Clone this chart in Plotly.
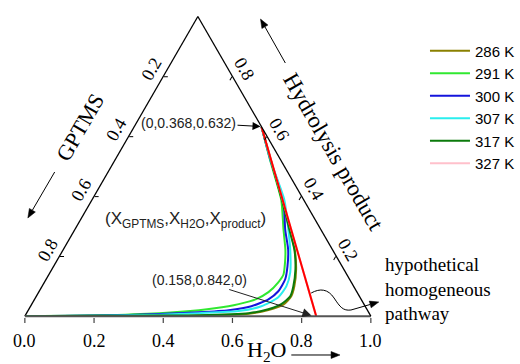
import math
import plotly.graph_objects as go

W, H = 520, 364
S3 = math.sqrt(3) / 2

# ---------------- data (X_H2O and X_product; X_GPTMS = 1 - both) ----------------
temps = ["286 K", "291 K", "300 K", "307 K", "317 K", "327 K"]
colors = ["#8a8000", "#30e830", "#1414dc", "#2aeeee", "#0b7a0b", "#ffc0cb"]

h2o_286 = [0, 0.216, 0.388, 0.503, 0.643, 0.694, 0.728, 0.737, 0.729, 0.706, 0.669, 0.621, 0.550, 0.451, 0.368]
prod_286 = [0, 0.000, 0.001, 0.002, 0.008, 0.020, 0.038, 0.066, 0.100, 0.156, 0.222, 0.289, 0.388, 0.520, 0.632]

h2o_291 = [0, 0.214, 0.383, 0.493, 0.572, 0.598, 0.639, 0.664, 0.676, 0.678, 0.662, 0.642, 0.603, 0.547, 0.449, 0.368]
prod_291 = [0, 0.003, 0.010, 0.020, 0.033, 0.040, 0.056, 0.080, 0.113, 0.139, 0.180, 0.222, 0.289, 0.388, 0.520, 0.632]

h2o_300 = [0, 0.214, 0.385, 0.496, 0.579, 0.638, 0.676, 0.691, 0.691, 0.676, 0.650, 0.608, 0.553, 0.450, 0.368]
prod_300 = [0, 0.002, 0.007, 0.013, 0.020, 0.033, 0.056, 0.083, 0.123, 0.166, 0.222, 0.289, 0.388, 0.520, 0.632]

h2o_307 = [0, 0.215, 0.386, 0.498, 0.609, 0.667, 0.701, 0.706, 0.694, 0.656, 0.617, 0.556, 0.450, 0.368]
prod_307 = [0, 0.001, 0.005, 0.010, 0.017, 0.033, 0.063, 0.100, 0.146, 0.222, 0.289, 0.388, 0.520, 0.632]

h2o_317 = [0, 0.216, 0.387, 0.502, 0.642, 0.692, 0.721, 0.734, 0.726, 0.704, 0.668, 0.620, 0.549, 0.451, 0.368]
prod_317 = [0, 0.001, 0.002, 0.003, 0.010, 0.023, 0.040, 0.066, 0.100, 0.156, 0.222, 0.289, 0.388, 0.520, 0.632]

h2o_327 = [0.842, 0.368]
prod_327 = [0.000, 0.632]

# hypothetical homogeneous pathway
path_h2o = [0.842, 0.368]
path_prod = [0.000, 0.632]

bottom_ticks = [0.0, 0.2, 0.4, 0.6, 0.8, 1.0]   # X_H2O along the base
side_ticks = [0.2, 0.4, 0.6, 0.8]

series_h2o = [h2o_286, h2o_291, h2o_300, h2o_307, h2o_317, h2o_327]
series_prod = [prod_286, prod_291, prod_300, prod_307, prod_317, prod_327]

# ---------------- layout geometry ----------------
X0, X1, YB = 25, 373, 317          # triangle base in pixels
TW = X1 - X0
TH = TW * S3
dom_x = [X0 / W, X1 / W]
dom_y = [(H - YB) / H, (H - YB + TH) / H]


def tern_px(prod, h2o):
    return X0 + TW * (h2o + prod / 2), YB - TH * prod


def tern_paper(prod, h2o):
    px, py = tern_px(prod, h2o)
    return px / W, 1 - py / H


def pp(px, py):
    return px / W, 1 - py / H


def ptxt(px, py):
    x, y = pp(px, py)
    return f"{x:.5f},{y:.5f}"


fig = go.Figure()
for name, col, hv, pv in zip(temps, colors, series_h2o, series_prod):
    fig.add_trace(go.Scatterternary(
        a=pv, c=hv, b=[1 - x - y for x, y in zip(hv, pv)],
        mode="lines", name=name,
        line=dict(color=col, width=2, shape="spline", smoothing=0.6),
        hoverinfo="skip"))

fig.add_trace(go.Scatterternary(
    a=path_prod, c=path_h2o, b=[1 - x - y for x, y in zip(path_h2o, path_prod)],
    mode="lines", showlegend=False, line=dict(color="#ff0000", width=2), hoverinfo="skip"))

serif = "Liberation Serif, Times New Roman, serif"
sans = "Liberation Sans, Arial, sans-serif"

axis_common = dict(showgrid=False, linecolor="black", linewidth=1.3, tickcolor="black",
                   ticklen=4, tickwidth=1, title=dict(text=""), showticklabels=False,
                   tickmode="array")

fig.update_layout(
    width=W, height=H, margin=dict(l=0, r=0, t=0, b=0),
    paper_bgcolor="white",
    ternary=dict(
        sum=1, bgcolor="white",
        domain=dict(x=dom_x, y=dom_y),
        aaxis=dict(axis_common, tickvals=side_ticks, ticks="inside"),
        baxis=dict(axis_common, tickvals=[1 - v for v in bottom_ticks], ticks="",
                   linecolor="#555555", linewidth=2),
        caxis=dict(axis_common, tickvals=side_ticks, ticks="inside"),
    ),
    legend=dict(x=0.822, y=0.905, xanchor="left", yanchor="top",
                font=dict(family=sans, size=15, color="black"),
                bgcolor="rgba(0,0,0,0)", tracegroupgap=0, itemwidth=40),
    showlegend=True,
)

ann = []
# side tick labels (GPTMS on the left edge, hydrolysis product on the right edge)
for v in side_ticks:
    px, py = tern_px(v, 0.0)            # left edge, product = v -> GPTMS = 1 - v
    x, y = pp(px - 14 * S3, py - 7)
    ann.append(dict(x=x, y=y, xref="paper", yref="paper", showarrow=False,
                    text=f"{1 - v:.1f}", textangle=-60, xanchor="center", yanchor="middle",
                    font=dict(family=serif, size=18, color="black")))
    px, py = tern_px(1 - v, v)          # right edge, H2O = v -> product = 1 - v
    x, y = pp(px + 14 * S3, py - 7)
    ann.append(dict(x=x, y=y, xref="paper", yref="paper", showarrow=False,
                    text=f"{1 - v:.1f}", textangle=60, xanchor="center", yanchor="middle",
                    font=dict(family=serif, size=18, color="black")))

# base tick labels (H2O)
for v in bottom_ticks:
    px, py = tern_px(0.0, v)
    x, y = pp(px, py + 24)
    ann.append(dict(x=x, y=y, xref="paper", yref="paper", showarrow=False,
                    text=f"{v:.1f}", xanchor="center", yanchor="middle",
                    font=dict(family=serif, size=18, color="black")))

# point labels with arrows
tx, ty = tern_paper(path_prod[1], path_h2o[1])
ann.append(dict(x=tx, y=ty, xref="paper", yref="paper", text="(0,0.368,0.632)",
                showarrow=True, ax=-73, ay=-4, arrowhead=2, arrowsize=1.6, arrowwidth=1,
                arrowcolor="black", standoff=1, font=dict(family=sans, size=14, color="#222")))
tx, ty = tern_paper(path_prod[0], path_h2o[0])
ann.append(dict(x=tx, y=ty, xref="paper", yref="paper", text="(0.158,0.842,0)",
                showarrow=True, ax=-117, ay=-37, arrowhead=2, arrowsize=1.8, arrowwidth=1,
                arrowcolor="#222", standoff=5, font=dict(family=sans, size=14, color="#222")))

texts = [
    ((187, 220), "(X<sub>GPTMS</sub>,X<sub>H2O</sub>,X<sub>product</sub>)", 0, sans, 17),
    ((80, 127), "GPTMS", -60, serif, 22),
    ((336, 152), "Hydrolysis product", 60, serif, 23),
    ((268, 351), "H<sub>2</sub>O", 0, serif, 22),
]
for (px, py), t, ang, fam, sz in texts:
    x, y = pp(px, py)
    ann.append(dict(x=x, y=y, xref="paper", yref="paper", showarrow=False, text=t,
                    textangle=ang, xanchor="center", yanchor="middle",
                    font=dict(family=fam, size=sz, color="black" if fam == serif else "#222")))

x, y = pp(385, 289)
ann.append(dict(x=x, y=y, xref="paper", yref="paper", showarrow=False, xanchor="left",
                yanchor="middle", align="left", text="hypothetical<br>homogeneous<br>pathway",
                font=dict(family=serif, size=19, color="black")))

fig.update_layout(annotations=ann)

# small visible ticks below the base
for v in bottom_ticks:
    px, py = tern_px(0.0, v)
    fig.add_shape(type="path", xref="paper", yref="paper",
                  path=f"M {ptxt(px, py + 1)} L {ptxt(px, py + 6)}",
                  line=dict(color="#444444", width=1.2))


# plain arrows drawn as shapes (line + filled head)
def add_arrow(tail, tip, hl=9.0, hw=7.0):
    dx, dy = tip[0] - tail[0], tip[1] - tail[1]
    L = math.hypot(dx, dy)
    ux, uy = dx / L, dy / L
    bx, by = tip[0] - ux * hl, tip[1] - uy * hl
    nx, ny = -uy, ux
    fig.add_shape(type="path", xref="paper", yref="paper",
                  path=f"M {ptxt(*tail)} L {ptxt(bx, by)}",
                  line=dict(color="black", width=1))
    fig.add_shape(type="path", xref="paper", yref="paper",
                  path=(f"M {ptxt(*tip)} L {ptxt(bx + nx * hw / 2, by + ny * hw / 2)} "
                        f"L {ptxt(bx - nx * hw / 2, by - ny * hw / 2)} Z"),
                  fillcolor="black", line=dict(color="black", width=0.5))


add_arrow((55, 172), (28, 218))
add_arrow((287, 63), (262, 19))
add_arrow((293, 355), (342, 355))
add_arrow((353, 310), (381, 302))

wave = (f"M {ptxt(313, 293)} C {ptxt(322, 288)} {ptxt(330, 289)} {ptxt(336, 298)} "
        f"C {ptxt(342, 307)} {ptxt(345, 311)} {ptxt(353, 310)}")
fig.add_shape(type="path", xref="paper", yref="paper", path=wave,
              line=dict(color="black", width=1))

fig.write_html("out.html")
